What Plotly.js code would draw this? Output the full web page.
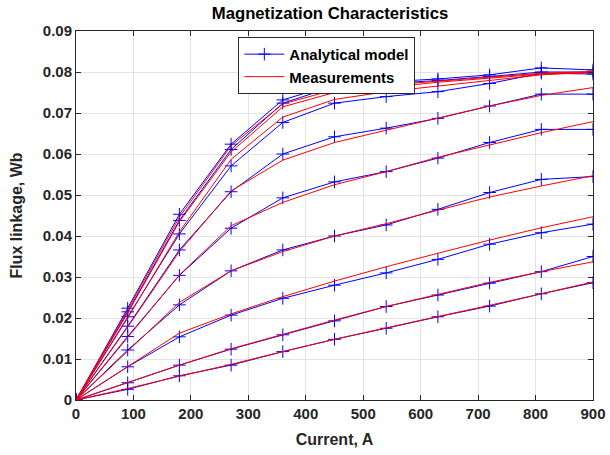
<!DOCTYPE html>
<html>
<head>
<meta charset="utf-8">
<script src="https://cdn.plot.ly/plotly-3.0.1.min.js"></script>
<style>html,body{margin:0;padding:0;background:#fff;}#chart{width:610px;height:455px;}</style>
</head>
<body>
<div id="chart"></div>
<script>
const current = [0, 90, 180, 270, 360, 450, 540, 630, 720, 810, 900];

// Analytical model curves (Wb)
const model1 = [0, 0.0224, 0.0453, 0.0624, 0.0732, 0.0770, 0.0776, 0.0783, 0.0793, 0.0810, 0.0805];
const model2 = [0, 0.0215, 0.0438, 0.0611, 0.0724, 0.0765, 0.0772, 0.0779, 0.0789, 0.0800, 0.0800];
const model3 = [0, 0.0203, 0.0405, 0.0571, 0.0677, 0.0724, 0.0740, 0.0752, 0.0772, 0.0797, 0.0795];
const model4 = [0, 0.0180, 0.0366, 0.0508, 0.0600, 0.0642, 0.0663, 0.0687, 0.0717, 0.0746, 0.0746];
const model5 = [0, 0.0155, 0.0304, 0.0419, 0.0493, 0.0532, 0.0557, 0.0590, 0.0628, 0.0660, 0.0660];
const model6 = [0, 0.0122, 0.0232, 0.0315, 0.0366, 0.0400, 0.0427, 0.0465, 0.0506, 0.0538, 0.0545];
const model7 = [0, 0.0081, 0.0154, 0.0207, 0.0248, 0.0280, 0.0310, 0.0343, 0.0380, 0.0408, 0.0429];
const model8 = [0, 0.0042, 0.0085, 0.0124, 0.0159, 0.0193, 0.0228, 0.0256, 0.0285, 0.0313, 0.0350];
const model9 = [0, 0.0026, 0.0059, 0.0085, 0.0118, 0.0148, 0.0175, 0.0203, 0.0229, 0.0259, 0.0286];

// Measurements (Wb)
const meas1 = [0, 0.0220, 0.0446, 0.0620, 0.0722, 0.0757, 0.0768, 0.0778, 0.0788, 0.0797, 0.0801];
const meas2 = [0, 0.0212, 0.0435, 0.0605, 0.0715, 0.0750, 0.0762, 0.0775, 0.0785, 0.0795, 0.0798];
const meas3 = [0, 0.0200, 0.0410, 0.0587, 0.0690, 0.0733, 0.0752, 0.0766, 0.0780, 0.0793, 0.0800];
const meas4 = [0, 0.0178, 0.0362, 0.0510, 0.0585, 0.0628, 0.0658, 0.0687, 0.0717, 0.0743, 0.0762];
const meas5 = [0, 0.0153, 0.0305, 0.0425, 0.0482, 0.0525, 0.0557, 0.0592, 0.0622, 0.0652, 0.0679];
const meas6 = [0, 0.0120, 0.0238, 0.0315, 0.0362, 0.0400, 0.0430, 0.0463, 0.0495, 0.0522, 0.0547];
const meas7 = [0, 0.0081, 0.0163, 0.0210, 0.0252, 0.0290, 0.0325, 0.0358, 0.0390, 0.0420, 0.0447];
const meas8 = [0, 0.0042, 0.0085, 0.0125, 0.0160, 0.0195, 0.0228, 0.0258, 0.0287, 0.0313, 0.0337];
const meas9 = [0, 0.0028, 0.0058, 0.0087, 0.0118, 0.0148, 0.0176, 0.0203, 0.0231, 0.0259, 0.0288];

const modelSets = [model1, model2, model3, model4, model5, model6, model7, model8, model9];
const measSets = [meas1, meas2, meas3, meas4, meas5, meas6, meas7, meas8, meas9];

const legendNames = ["Analytical model", "Measurements"];
const xTicks = [0, 100, 200, 300, 400, 500, 600, 700, 800, 900];
const yTicks = [0, 0.01, 0.02, 0.03, 0.04, 0.05, 0.06, 0.07, 0.08, 0.09];
const yTickText = ["0", "0.01", "0.02", "0.03", "0.04", "0.05", "0.06", "0.07", "0.08", "0.09"];

const traces = [];
modelSets.forEach((ys, i) => {
  traces.push({
    x: current, y: ys, type: 'scatter', mode: 'lines+markers',
    name: legendNames[0], legendgroup: 'model', showlegend: i === 0,
    line: {color: 'rgb(0,0,255)', width: 1},
    marker: {symbol: 'cross-thin', size: 9, line: {color: 'rgb(0,0,255)', width: 1}, color: 'rgb(0,0,255)'}
  });
});
measSets.forEach((ys, i) => {
  traces.push({
    x: current, y: ys, type: 'scatter', mode: 'lines',
    name: legendNames[1], legendgroup: 'meas', showlegend: i === 0,
    line: {color: 'rgb(255,0,0)', width: 1}
  });
});

const fontFam = 'Liberation Sans, Arial, sans-serif';
const axisCommon = {
  showgrid: true, gridcolor: '#e3e3e3', gridwidth: 1,
  showline: true, linecolor: '#262626', linewidth: 1, mirror: 'ticks',
  ticks: 'inside', ticklen: 5, tickcolor: '#262626',
  zeroline: false,
  tickfont: {family: fontFam, size: 15, color: '#262626', weight: 'bold'}
};

const layout = {
  width: 610, height: 455,
  margin: {l: 76, r: 17, t: 31, b: 55},
  paper_bgcolor: '#ffffff', plot_bgcolor: '#ffffff',
  title: {text: '<b>Magnetization Characteristics</b>', x: 0.541, xanchor: 'center', y: 0.970, yanchor: 'middle',
          font: {family: fontFam, size: 16.7, color: '#000000'}},
  xaxis: Object.assign({}, axisCommon, {
    range: [0, 900], tickvals: xTicks, ticktext: xTicks.map(String),
    title: {text: '<b>Current, A</b>', font: {family: fontFam, size: 16, color: '#262626'}, standoff: 12}
  }),
  yaxis: Object.assign({}, axisCommon, {
    range: [0, 0.09], tickvals: yTicks, ticktext: yTickText,
    title: {text: '<b>Flux linkage, Wb</b>', font: {family: fontFam, size: 16, color: '#262626'}, standoff: 16}
  }),
  legend: {
    x: 0.314, y: 0.984, xanchor: 'left', yanchor: 'top',
    bgcolor: '#ffffff', bordercolor: '#262626', borderwidth: 1,
    font: {family: fontFam, size: 15, color: '#000000', weight: 'bold'},
    tracegroupgap: 0, itemwidth: 40
  },
  showlegend: true
};

Plotly.newPlot('chart', traces, layout, {staticPlot: true, displayModeBar: false});
</script>
</body>
</html>
